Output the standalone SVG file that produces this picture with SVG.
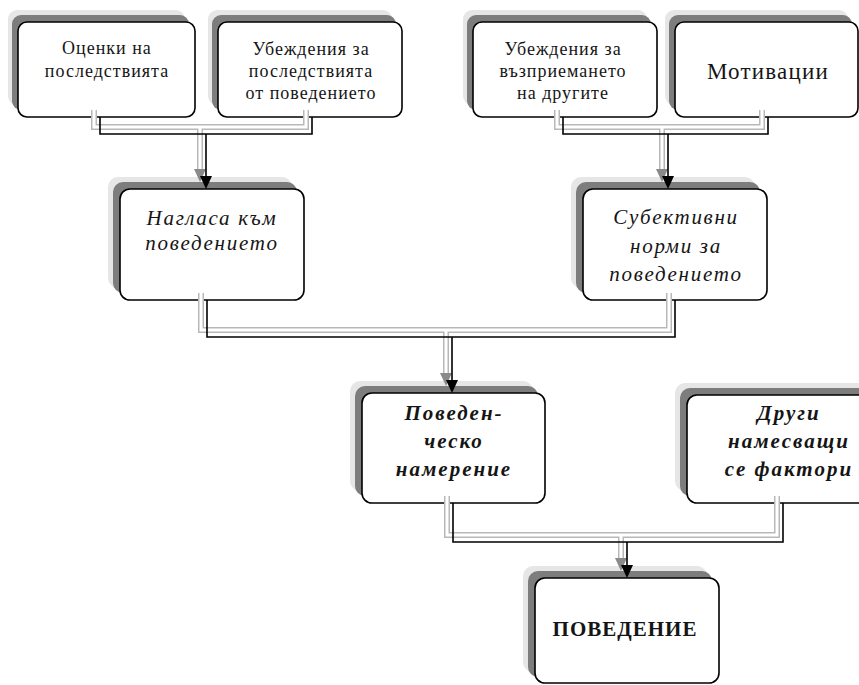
<svg xmlns="http://www.w3.org/2000/svg" width="859" height="685" viewBox="0 0 859 685">
<defs>
<style>
.halo{fill:#e6e6e6}
.sh{fill:#7d7d7d}
.box{fill:#fff;stroke:#000;stroke-width:1.6}
.t{font-family:"Liberation Serif","Times New Roman",serif;fill:#151515;text-anchor:middle}
.r{font-size:18px;letter-spacing:1px}
.i{font-size:21px;font-style:italic;letter-spacing:1.7px}
.bi{font-size:21px;font-style:italic;font-weight:bold;letter-spacing:2px}
.b{font-size:21px;font-weight:bold;letter-spacing:1px}
.cs{fill:none;stroke:#b8b8b8;stroke-width:6}
.cw{fill:none;stroke:#fff;stroke-width:3}
.cb{fill:none;stroke:#000;stroke-width:1.6}
.ah{fill:#000}
.as{fill:#8a8a8a}
</style>
</defs>
<rect width="859" height="685" fill="#fff"/>

<g id="n1">
<rect class="halo" x="8" y="10" width="177" height="95" rx="9"/>
<rect class="sh" x="12" y="15" width="177" height="95" rx="9"/>
<rect class="box" x="18" y="22" width="177" height="95" rx="9"/>
<text class="t r" x="107" y="54">Оценки на</text>
<text class="t r" x="107" y="77">последствията</text>
</g>
<g id="n2">
<rect class="halo" x="208" y="10" width="184" height="95" rx="9"/>
<rect class="sh" x="212" y="15" width="184" height="95" rx="9"/>
<rect class="box" x="218" y="22" width="184" height="95" rx="9"/>
<text class="t r" x="311" y="55">Убеждения за</text>
<text class="t r" x="311" y="77">последствията</text>
<text class="t r" x="311" y="99">от поведението</text>
</g>
<g id="n3">
<rect class="halo" x="463" y="10" width="184" height="95" rx="9"/>
<rect class="sh" x="467" y="15" width="184" height="95" rx="9"/>
<rect class="box" x="473" y="22" width="184" height="95" rx="9"/>
<text class="t r" x="563" y="55">Убеждения за</text>
<text class="t r" x="563" y="77">възприемането</text>
<text class="t r" x="563" y="99">на другите</text>
</g>
<g id="n4">
<rect class="halo" x="665" y="10" width="183" height="95" rx="9"/>
<rect class="sh" x="669" y="15" width="183" height="95" rx="9"/>
<rect class="box" x="675" y="22" width="183" height="95" rx="9"/>
<text class="t" x="768" y="79" font-size="23" letter-spacing="1.2">Мотивации</text>
</g>
<g id="n5">
<rect class="halo" x="108" y="177" width="184" height="111" rx="10"/>
<rect class="sh" x="113" y="182" width="184" height="111" rx="10"/>
<rect class="box" x="120" y="189" width="184" height="111" rx="10"/>
<text class="t i" x="212" y="225">Нагласа към</text>
<text class="t i" x="212" y="250">поведението</text>
</g>
<g id="n6">
<rect class="halo" x="571" y="177" width="184" height="111" rx="10"/>
<rect class="sh" x="576" y="182" width="184" height="111" rx="10"/>
<rect class="box" x="583" y="189" width="184" height="111" rx="10"/>
<text class="t i" x="676" y="224">Субективни</text>
<text class="t i" x="676" y="253">норми за</text>
<text class="t i" x="676" y="281">поведението</text>
</g>
<g id="n7">
<rect class="halo" x="350" y="381" width="183" height="110" rx="10"/>
<rect class="sh" x="355" y="386" width="183" height="110" rx="10"/>
<rect class="box" x="362" y="393" width="183" height="110" rx="10"/>
<text class="t bi" x="454" y="420">Поведен-</text>
<text class="t bi" x="454" y="448">ческо</text>
<text class="t bi" x="454" y="476">намерение</text>
</g>
<g id="n8">
<rect class="halo" x="675" y="383" width="195" height="108" rx="10"/>
<rect class="sh" x="680" y="388" width="195" height="108" rx="10"/>
<rect class="box" x="687" y="395" width="195" height="108" rx="10"/>
<text class="t bi" x="789" y="420">Други</text>
<text class="t bi" x="789" y="448">намесващи</text>
<text class="t bi" x="789" y="476">се фактори</text>
</g>
<g id="n9">
<rect class="halo" x="523" y="566" width="184" height="106" rx="10"/>
<rect class="sh" x="528" y="571" width="184" height="106" rx="10"/>
<rect class="box" x="535" y="578" width="184" height="105" rx="10"/>
<text class="t b" x="625" y="636">ПОВЕДЕНИЕ</text>
</g>

<g id="connectors">
<g transform="translate(-6,-7)">
<path class="cs" d="M100,117 V134 H312 V117 M206,134 V176"/>
<path class="cw" d="M100,117 V134 H312 V117 M206,134 V176"/>
<path class="as" d="M200,176 H212 L206,189 Z"/>
<path class="cs" d="M563,117 V134 H768 V117 M668,134 V176"/>
<path class="cw" d="M563,117 V134 H768 V117 M668,134 V176"/>
<path class="as" d="M662,176 H674 L668,189 Z"/>
<path class="cs" d="M207,300 V337 H675 V300 M452,337 V380"/>
<path class="cw" d="M207,300 V337 H675 V300 M452,337 V380"/>
<path class="as" d="M446,380 H458 L452,393 Z"/>
<path class="cs" d="M453,503 V542 H783 V503 M627,542 V565"/>
<path class="cw" d="M453,503 V542 H783 V503 M627,542 V565"/>
<path class="as" d="M621,565 H633 L627,578 Z"/>
</g>
<path class="cb" d="M100,117 V134 H312 V117 M206,134 V177"/>
<path class="ah" d="M200,176 H212 L206,189 Z"/>
<path class="cb" d="M563,117 V134 H768 V117 M668,134 V177"/>
<path class="ah" d="M662,176 H674 L668,189 Z"/>
<path class="cb" d="M207,300 V337 H675 V300 M452,337 V381"/>
<path class="ah" d="M446,380 H458 L452,393 Z"/>
<path class="cb" d="M453,503 V542 H783 V503 M627,542 V566"/>
<path class="ah" d="M621,565 H633 L627,578 Z"/>
</g>
</svg>
